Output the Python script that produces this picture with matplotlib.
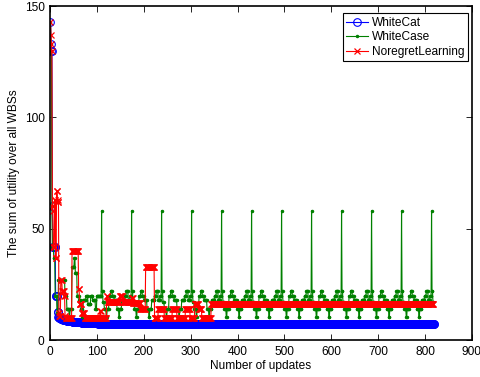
import numpy as np
import matplotlib
matplotlib.use("Agg")
import matplotlib.pyplot as plt

plt.rcParams['font.family'] = ['Liberation Sans', 'DejaVu Sans']

N_UPDATES = 820

# ---- WhiteCat (blue): run-length (value, count)
cat_vals = [143, 133, 130, 60, 42, 20, 12.7, 10.5, 10, 9.5, 9, 8.5, 8, 7.5, 7.0]
cat_cnts = [1, 1, 2, 1, 6, 4, 2, 2, 3, 5, 8, 12, 20, 35, 720]

# ---- WhiteCase (green): initial segment then repeated period
case_init_vals = [143, 133, 130, 60, 42, 37, 20, 12, 27, 20, 14, 10.5, 14, 33, 37, 30,
                  20, 18, 14, 10.5, 18, 20, 16, 20, 18, 14, 20]
case_init_cnts = [1, 1, 1, 1, 3, 3, 4, 3, 14, 4, 5, 2, 4, 5, 2, 4,
                  4, 4, 3, 2, 6, 4, 6, 4, 6, 3, 10]
case_period_vals = [58, 22, 17, 14, 10.5, 14, 20, 22, 20, 18, 14, 10.5, 14, 18, 20, 22, 18, 20]
case_period_cnts = [1, 2, 3, 4, 2, 4, 4, 3, 4, 6, 4, 2, 4, 6, 4, 4, 4, 3]
case_n_periods = 12

# ---- NoregretLearning (red): run-length
nr_vals = [143, 137, 133, 130, 60, 58, 42, 63, 37, 67, 62, 63, 12, 11, 27, 22, 20, 11, 10,
           40, 23, 16, 12, 10, 9.8, 13, 10, 20, 17, 20, 17, 19, 16.5, 14, 32.7,
           9.8, 14, 9.8, 14, 9.8, 14, 9.8, 16.4, 14, 9.8, 16.4]
nr_cnts = [1, 1, 1, 1, 1, 1, 3, 2, 2, 2, 2, 1, 1, 3, 3, 4, 2, 2, 13,
           14, 2, 5, 6, 15, 18, 2, 12, 2, 26, 6, 19, 3, 16, 11, 19,
           8, 13, 17, 10, 18, 10, 10, 8, 7, 20, 475]

x_ticks = [0, 100, 200, 300, 400, 500, 600, 700, 800, 900]
y_ticks = [0, 50, 100, 150]


def expand(vals, cnts):
    return np.repeat(np.asarray(vals, float), cnts)


cat = expand(cat_vals, cat_cnts)[:N_UPDATES]
case = np.concatenate([expand(case_init_vals, case_init_cnts),
                       np.tile(expand(case_period_vals, case_period_cnts), case_n_periods)])
case = case[:N_UPDATES - 2]
nr = expand(nr_vals, nr_cnts)[:N_UPDATES]

fig = plt.figure(figsize=(4.81, 3.77), dpi=100)
ax = fig.add_axes([0.104, 0.098, 0.877, 0.886])

ax.plot(np.arange(1, len(cat) + 1), cat, color='blue', lw=0.8, marker='o',
        mfc='none', mec='blue', ms=5.5, mew=0.8, label='WhiteCat')
ax.plot(np.arange(1, len(case) + 1), case, color=(0, 0.5, 0), lw=0.8, marker='.',
        ms=3, label='WhiteCase')
ax.plot(np.arange(1, len(nr) + 1), nr, color='red', lw=0.8, marker='x',
        ms=4.8, mew=0.9, label='NoregretLearning')

ax.set_xlim(0, 900)
ax.set_ylim(0, 150)
ax.set_xticks(x_ticks)
ax.set_yticks(y_ticks)
ax.tick_params(direction='in', length=4, width=0.6, top=True, right=True,
               labelsize=8.6, pad=4, colors='black')
for s in ax.spines.values():
    s.set_linewidth(1.2)
ax.set_xlabel('Number of updates', fontsize=8.6, labelpad=2)
ax.set_ylabel('The sum of utility over all WBSs', fontsize=8.6, labelpad=3)

leg = ax.legend(loc='upper right', bbox_to_anchor=(0.992, 0.978), fontsize=8.6,
                fancybox=False, edgecolor='black', framealpha=1, borderpad=0.3,
                labelspacing=0.2, handlelength=1.8, handletextpad=0.4,
                borderaxespad=0)
leg.get_frame().set_linewidth(0.8)

fig.savefig('out.png', dpi=100)
